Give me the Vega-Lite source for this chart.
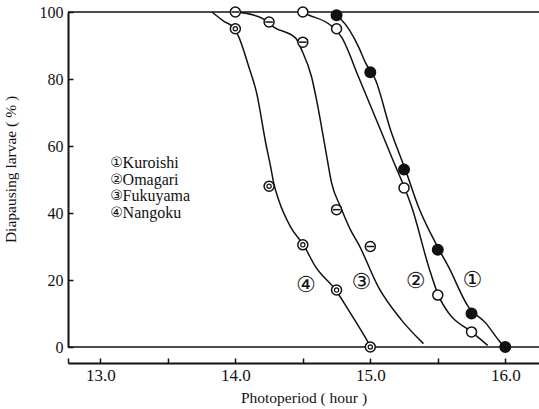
{
  "$schema": "https://vega.github.io/schema/vega-lite/v6.json",
  "autosize": "none",
  "width": 471,
  "height": 335,
  "padding": {"left": 68, "top": 12, "right": 0, "bottom": 62},
  "background": "white",
  "config": {
    "view": {"stroke": null},
    "axis": {"labelFont": "Liberation Serif", "titleFont": "Liberation Serif", "labelColor": "#111", "titleColor": "#111", "domainColor": "#111", "tickColor": "#111", "grid": false, "titleFontWeight": "normal"}
  },
  "datasets": {
    "obs": [
      {"series": "Kuroishi", "x": 14.75, "y": 99},
      {"series": "Kuroishi", "x": 15.0, "y": 82},
      {"series": "Kuroishi", "x": 15.25, "y": 53},
      {"series": "Kuroishi", "x": 15.5, "y": 29},
      {"series": "Kuroishi", "x": 15.75, "y": 10},
      {"series": "Kuroishi", "x": 16.0, "y": 0},
      {"series": "Omagari", "x": 14.5, "y": 100},
      {"series": "Omagari", "x": 14.75, "y": 95},
      {"series": "Omagari", "x": 15.25, "y": 47.5},
      {"series": "Omagari", "x": 15.5, "y": 15.5},
      {"series": "Omagari", "x": 15.75, "y": 4.5},
      {"series": "Fukuyama", "x": 14.0, "y": 100},
      {"series": "Fukuyama", "x": 14.25, "y": 97},
      {"series": "Fukuyama", "x": 14.5, "y": 91},
      {"series": "Fukuyama", "x": 14.75, "y": 41},
      {"series": "Fukuyama", "x": 15.0, "y": 30},
      {"series": "Nangoku", "x": 14.0, "y": 95},
      {"series": "Nangoku", "x": 14.25, "y": 48},
      {"series": "Nangoku", "x": 14.5, "y": 30.5},
      {"series": "Nangoku", "x": 14.75, "y": 17},
      {"series": "Nangoku", "x": 15.0, "y": 0}
    ],
    "curve": [
      {"series": "Kuroishi", "x": 14.735, "y": 99.1},
      {"series": "Kuroishi", "x": 14.787, "y": 97.6},
      {"series": "Kuroishi", "x": 14.913, "y": 89.6},
      {"series": "Kuroishi", "x": 14.965, "y": 84.8},
      {"series": "Kuroishi", "x": 15.039, "y": 79.7},
      {"series": "Kuroishi", "x": 15.15, "y": 64.8},
      {"series": "Kuroishi", "x": 15.224, "y": 56.7},
      {"series": "Kuroishi", "x": 15.261, "y": 52.8},
      {"series": "Kuroishi", "x": 15.357, "y": 41.8},
      {"series": "Kuroishi", "x": 15.484, "y": 31.0},
      {"series": "Kuroishi", "x": 15.58, "y": 23.9},
      {"series": "Kuroishi", "x": 15.728, "y": 11.9},
      {"series": "Kuroishi", "x": 15.854, "y": 7.2},
      {"series": "Kuroishi", "x": 15.95, "y": 2.1},
      {"series": "Kuroishi", "x": 15.99, "y": 0.2},
      {"series": "Omagari", "x": 14.492, "y": 100},
      {"series": "Omagari", "x": 14.543, "y": 99.1},
      {"series": "Omagari", "x": 14.713, "y": 95.8},
      {"series": "Omagari", "x": 14.787, "y": 92.5},
      {"series": "Omagari", "x": 14.913, "y": 80.6},
      {"series": "Omagari", "x": 15.076, "y": 64.8},
      {"series": "Omagari", "x": 15.158, "y": 56.7},
      {"series": "Omagari", "x": 15.254, "y": 47.5},
      {"series": "Omagari", "x": 15.307, "y": 41.8},
      {"series": "Omagari", "x": 15.433, "y": 23.9},
      {"series": "Omagari", "x": 15.507, "y": 15.2},
      {"series": "Omagari", "x": 15.581, "y": 10.1},
      {"series": "Omagari", "x": 15.751, "y": 4.5},
      {"series": "Omagari", "x": 15.87, "y": 0.5},
      {"series": "Fukuyama", "x": 14.003, "y": 100},
      {"series": "Fukuyama", "x": 14.061, "y": 99.7},
      {"series": "Fukuyama", "x": 14.21, "y": 97.9},
      {"series": "Fukuyama", "x": 14.284, "y": 95.5},
      {"series": "Fukuyama", "x": 14.447, "y": 92.2},
      {"series": "Fukuyama", "x": 14.491, "y": 88.7},
      {"series": "Fukuyama", "x": 14.565, "y": 80.6},
      {"series": "Fukuyama", "x": 14.602, "y": 73.7},
      {"series": "Fukuyama", "x": 14.669, "y": 58.8},
      {"series": "Fukuyama", "x": 14.713, "y": 49.0},
      {"series": "Fukuyama", "x": 14.78, "y": 41.8},
      {"series": "Fukuyama", "x": 14.854, "y": 34.9},
      {"series": "Fukuyama", "x": 14.913, "y": 30.7},
      {"series": "Fukuyama", "x": 15.06, "y": 17.9},
      {"series": "Fukuyama", "x": 15.23, "y": 8.1},
      {"series": "Fukuyama", "x": 15.394, "y": 1.0},
      {"series": "Nangoku", "x": 13.826, "y": 100},
      {"series": "Nangoku", "x": 13.913, "y": 97.3},
      {"series": "Nangoku", "x": 13.99, "y": 95.2},
      {"series": "Nangoku", "x": 14.026, "y": 92.5},
      {"series": "Nangoku", "x": 14.1, "y": 83.6},
      {"series": "Nangoku", "x": 14.158, "y": 75.8},
      {"series": "Nangoku", "x": 14.225, "y": 60.9},
      {"series": "Nangoku", "x": 14.262, "y": 53.7},
      {"series": "Nangoku", "x": 14.284, "y": 49.0},
      {"series": "Nangoku", "x": 14.321, "y": 43.9},
      {"series": "Nangoku", "x": 14.41, "y": 35.8},
      {"series": "Nangoku", "x": 14.506, "y": 30.4},
      {"series": "Nangoku", "x": 14.595, "y": 23.9},
      {"series": "Nangoku", "x": 14.743, "y": 17.0},
      {"series": "Nangoku", "x": 14.839, "y": 11.0},
      {"series": "Nangoku", "x": 14.965, "y": 2.7},
      {"series": "Nangoku", "x": 15.0, "y": 0.2}
    ],
    "legend": [
      {"digit": "①", "name": "Kuroishi", "x": 13.12, "y": 55},
      {"digit": "②", "name": "Omagari", "x": 13.12, "y": 50},
      {"digit": "③", "name": "Fukuyama", "x": 13.12, "y": 45},
      {"digit": "④", "name": "Nangoku", "x": 13.12, "y": 40}
    ],
    "tags": [
      {"label": "①", "x": 15.757, "y": 19.9},
      {"label": "②", "x": 15.336, "y": 19.7},
      {"label": "③", "x": 14.934, "y": 19.3},
      {"label": "④", "x": 14.523, "y": 18.5}
    ],
    "refs": [
      {"level": 0},
      {"level": 100}
    ]
  },
  "layer": [
    {
      "data": {"name": "refs"},
      "mark": {"type": "rule", "color": "#111", "strokeWidth": 1.6},
      "encoding": {
        "y": {
          "field": "level", "type": "quantitative",
          "scale": {"domain": [0, 100], "nice": false, "zero": false},
          "axis": {
            "values": [0, 20, 40, 60, 80, 100],
            "tickSize": -5, "tickWidth": 1.5, "domainWidth": 2,
            "labelFontSize": 16, "labelPadding": 10,
            "title": "Diapausing larvae ( % )", "titleFontSize": 15.5,
            "titleX": -50, "titleY": 157
          }
        }
      }
    },
    {
      "data": {"name": "curve"},
      "mark": {"type": "line", "color": "#111", "strokeWidth": 1.5, "interpolate": "monotone"},
      "encoding": {
        "x": {
          "field": "x", "type": "quantitative",
          "scale": {"domain": [12.76, 16.25], "nice": false, "zero": false},
          "axis": {
            "values": [12.76, 13, 13.5, 14, 14.5, 15, 15.5, 16],
            "labelExpr": "datum.value % 1 == 0 ? format(datum.value, '.1f') : ''",
            "offset": 16, "tickSize": -5, "tickWidth": 1.5, "domainWidth": 2,
            "labelFontSize": 17, "labelPadding": 9,
            "title": "Photoperiod ( hour )", "titleFontSize": 15.5, "titlePadding": 7
          }
        },
        "y": {"field": "y", "type": "quantitative"},
        "detail": {"field": "series"}
      }
    },
    {
      "data": {"name": "obs"},
      "transform": [{"filter": "datum.series == 'Kuroishi'"}],
      "mark": {"type": "point", "shape": "circle", "filled": true, "fill": "#111", "stroke": "#111", "size": 100, "opacity": 1},
      "encoding": {"x": {"field": "x", "type": "quantitative"}, "y": {"field": "y", "type": "quantitative"}}
    },
    {
      "data": {"name": "obs"},
      "transform": [{"filter": "datum.series != 'Kuroishi'"}],
      "mark": {"type": "point", "shape": "circle", "filled": false, "fill": "white", "fillOpacity": 1, "stroke": "#111", "strokeWidth": 1.5, "size": 100, "opacity": 1},
      "encoding": {"x": {"field": "x", "type": "quantitative"}, "y": {"field": "y", "type": "quantitative"}}
    },
    {
      "data": {"name": "obs"},
      "transform": [{"filter": "datum.series == 'Fukuyama'"}],
      "mark": {"type": "point", "shape": "M -0.75 0 L 0.75 0", "filled": false, "stroke": "#111", "strokeWidth": 1.5, "size": 100, "opacity": 1},
      "encoding": {"x": {"field": "x", "type": "quantitative"}, "y": {"field": "y", "type": "quantitative"}}
    },
    {
      "data": {"name": "obs"},
      "transform": [{"filter": "datum.series == 'Nangoku'"}],
      "mark": {"type": "point", "shape": "circle", "filled": false, "stroke": "#111", "strokeWidth": 1.2, "size": 18, "opacity": 1},
      "encoding": {"x": {"field": "x", "type": "quantitative"}, "y": {"field": "y", "type": "quantitative"}}
    },
    {
      "data": {"name": "legend"},
      "mark": {"type": "text", "align": "center", "baseline": "middle", "font": "DejaVu Sans", "fontSize": 14, "color": "#111"},
      "encoding": {"x": {"field": "x", "type": "quantitative"}, "y": {"field": "y", "type": "quantitative"}, "text": {"field": "digit"}}
    },
    {
      "data": {"name": "legend"},
      "mark": {"type": "text", "align": "left", "baseline": "middle", "font": "Liberation Serif", "fontSize": 16, "color": "#111", "dx": 6},
      "encoding": {"x": {"field": "x", "type": "quantitative"}, "y": {"field": "y", "type": "quantitative"}, "text": {"field": "name"}}
    },
    {
      "data": {"name": "tags"},
      "mark": {"type": "text", "align": "center", "baseline": "middle", "font": "DejaVu Sans", "fontSize": 22, "color": "#111"},
      "encoding": {"x": {"field": "x", "type": "quantitative"}, "y": {"field": "y", "type": "quantitative"}, "text": {"field": "label"}}
    }
  ]
}
